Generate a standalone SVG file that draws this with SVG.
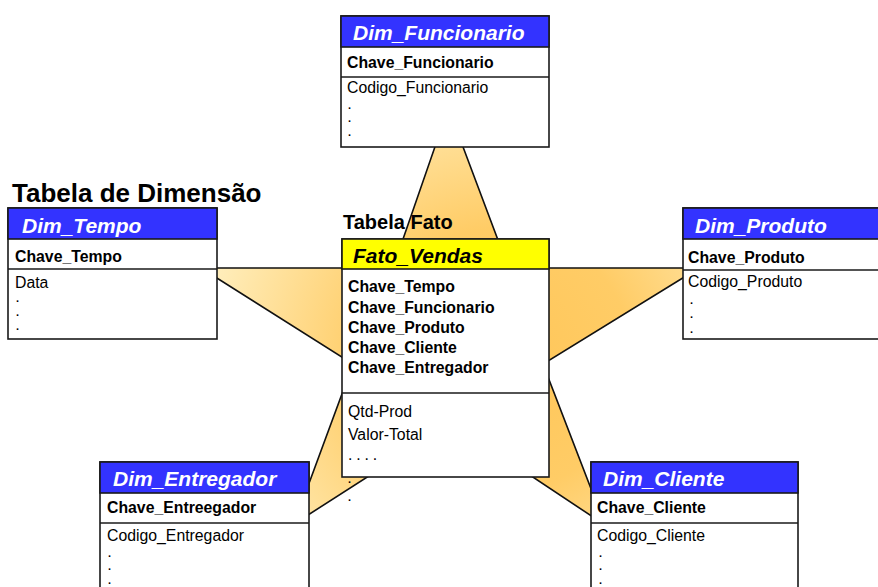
<svg xmlns="http://www.w3.org/2000/svg" width="878" height="587" viewBox="0 0 878 587">
<style>
.box{fill:#fff;stroke:#1a1a1a;stroke-width:1.6}
.hdr{fill:#3333ff;stroke:#1a1a1a;stroke-width:1.6}
.hdrY{fill:#ffff00;stroke:#1a1a1a;stroke-width:1.6}
.sep{stroke:#1a1a1a;stroke-width:1.6}
text{font-family:"Liberation Sans",Arial,sans-serif;fill:#000}
.title{font-weight:bold;font-style:italic;font-size:21px;fill:#fff}
.titleK{font-weight:bold;font-style:italic;font-size:21px;fill:#000}
.key{font-weight:bold;font-size:15.8px}
.attr{font-size:15.8px}
.dot{font-size:11px;font-weight:bold}
.head{font-weight:bold}
</style>
<defs>
<radialGradient id="starGrad" gradientUnits="userSpaceOnUse" cx="500" cy="360" r="330">
<stop offset="0" stop-color="#ffc658"/>
<stop offset="0.4" stop-color="#ffcc66"/>
<stop offset="1" stop-color="#fff4cc"/>
</radialGradient>
</defs>
<rect width="878" height="587" fill="#fff"/>
<g id="connectors">
<polygon points="448.4,108 508.5,268 699,268 543,364 605,525 451.5,423 294,524 353,364 201,268 393,268" fill="url(#starGrad)" stroke="#111" stroke-width="1.6" stroke-linejoin="miter"/>
</g>
<text class="head" x="12" y="202" font-size="26">Tabela de Dimensão</text>
<text class="head" x="343" y="229" font-size="20">Tabela Fato</text>
<g id="Dim_Funcionario">
<rect class="box" x="341" y="16" width="208" height="131"/>
<rect class="hdr" x="341" y="16" width="208" height="31"/>
<line class="sep" x1="341" y1="77" x2="549" y2="77"/>
<text class="title" x="353" y="40">Dim_Funcionario</text>
<text class="key" x="347" y="68">Chave_Funcionario</text>
<text class="attr" x="347" y="93">Codigo_Funcionario</text>
<text class="dot" x="348" y="109">.</text>
<text class="dot" x="348" y="122">.</text>
<text class="dot" x="348" y="136">.</text>
</g>
<g id="Dim_Tempo">
<rect class="box" x="8" y="208" width="209" height="131"/>
<rect class="hdr" x="8" y="208" width="209" height="31"/>
<line class="sep" x1="8" y1="269" x2="217" y2="269"/>
<text class="title" x="22" y="233">Dim_Tempo</text>
<text class="key" x="15" y="262">Chave_Tempo</text>
<text class="attr" x="15" y="288">Data</text>
<text class="dot" x="16" y="302">.</text>
<text class="dot" x="16" y="316">.</text>
<text class="dot" x="16" y="330">.</text>
</g>
<g id="Fato_Vendas">
<rect class="box" x="342" y="239" width="207" height="238"/>
<rect class="hdrY" x="342" y="239" width="207" height="30"/>
<line class="sep" x1="342" y1="393" x2="549" y2="393"/>
<text class="titleK" x="353" y="263">Fato_Vendas</text>
<text class="key" x="348" y="292">Chave_Tempo</text>
<text class="key" x="348" y="313">Chave_Funcionario</text>
<text class="key" x="348" y="333">Chave_Produto</text>
<text class="key" x="348" y="353">Chave_Cliente</text>
<text class="key" x="348" y="373">Chave_Entregador</text>
<text class="attr" x="348" y="417">Qtd-Prod</text>
<text class="attr" x="348" y="440">Valor-Total</text>
<text class="attr" x="348" y="460" letter-spacing="3.9">....</text>
<text class="dot" x="348" y="483">.</text>
<text class="dot" x="348" y="501">.</text>
</g>
<g id="Dim_Produto">
<rect class="box" x="683" y="208" width="200" height="131"/>
<rect class="hdr" x="683" y="208" width="200" height="31"/>
<line class="sep" x1="683" y1="270" x2="883" y2="270"/>
<text class="title" x="695" y="233">Dim_Produto</text>
<text class="key" x="688" y="263" font-size="18.3">Chave_Produto</text>
<text class="attr" x="688" y="287">Codigo_Produto</text>
<text class="dot" x="690" y="304">.</text>
<text class="dot" x="690" y="318">.</text>
<text class="dot" x="690" y="333">.</text>
</g>
<g id="Dim_Entregador">
<rect class="box" x="100" y="462" width="209" height="140"/>
<rect class="hdr" x="100" y="462" width="209" height="31"/>
<line class="sep" x1="100" y1="523" x2="309" y2="523"/>
<text class="title" x="113" y="486">Dim_Entregador</text>
<text class="key" x="107" y="513">Chave_Entreegador</text>
<text class="attr" x="107" y="541">Codigo_Entregador</text>
<text class="dot" x="108" y="557">.</text>
<text class="dot" x="108" y="570">.</text>
<text class="dot" x="108" y="584">.</text>
</g>
<g id="Dim_Cliente">
<rect class="box" x="591" y="462" width="207" height="140"/>
<rect class="hdr" x="591" y="462" width="207" height="31"/>
<line class="sep" x1="591" y1="523" x2="798" y2="523"/>
<text class="title" x="603" y="486">Dim_Cliente</text>
<text class="key" x="597" y="513">Chave_Cliente</text>
<text class="attr" x="597" y="541">Codigo_Cliente</text>
<text class="dot" x="599" y="557">.</text>
<text class="dot" x="599" y="570">.</text>
<text class="dot" x="599" y="584">.</text>
</g>
</svg>
